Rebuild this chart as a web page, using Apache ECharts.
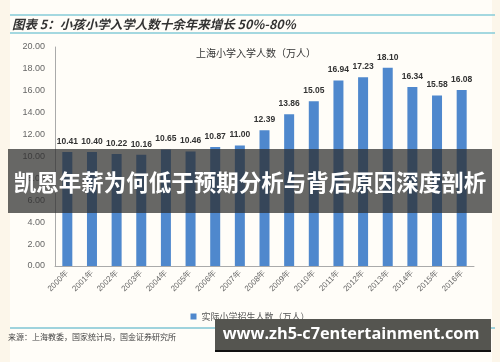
<!DOCTYPE html>
<html>
<head>
<meta charset="utf-8">
<script src="https://cdn.jsdelivr.net/npm/echarts@6/dist/echarts.min.js"></script>
<style>
html,body{margin:0;padding:0;background:#fcf6ea;}
#c{width:500px;height:362px;}
</style>
</head>
<body>
<div id="c"></div>
<script>
const categories = ['2000年','2001年','2002年','2003年','2004年','2005年','2006年','2007年','2008年','2009年','2010年','2011年','2012年','2013年','2014年','2015年','2016年'];
const enrollment = [10.41,10.40,10.22,10.16,10.65,10.46,10.87,11.00,12.39,13.86,15.05,16.94,17.23,18.10,16.34,15.58,16.08];
const seriesName = '实际小学招生人数（万人）';
const chartTitle = '上海小学入学人数（万人）';
const figTitle = '图表 5：小孩小学入学人数十余年来增长 50%-80%';
const sourceText = '来源：上海教委，国家统计局，国金证券研究所';
const overlayText = '凯恩年薪为何低于预期分析与背后原因深度剖析';
const watermark = 'www.zh5-c7entertainment.com';

const chart = echarts.init(document.getElementById('c'));
chart.setOption({
  backgroundColor: '#fcf6ea',
  animation: false,
  title: {
    text: chartTitle, left: 251, top: 43, textAlign: 'center',
    textStyle: {fontSize: 10, fontWeight: 'normal', color: '#333', fontFamily: 'Noto Sans CJK SC'}
  },
  legend: {
    data: [seriesName], left: 'center', top: 307, itemWidth: 6, itemHeight: 6, itemGap: 4,
    icon: 'rect',
    textStyle: {fontSize: 9, color: '#555', fontFamily: 'Noto Sans CJK SC'}
  },
  grid: {left: 55, right: 26, top: 47, bottom: 96},
  xAxis: {
    type: 'category', data: categories,
    axisLine: {lineStyle: {color: '#aaa'}},
    axisTick: {show: false},
    axisLabel: {rotate: 45, fontSize: 8, color: '#666', margin: 6, interval: 0}
  },
  yAxis: {
    type: 'value', min: 0, max: 20, interval: 2,
    axisLine: {show: true, lineStyle: {color: '#aaa'}},
    axisTick: {show: false},
    splitLine: {show: false},
    axisLabel: {fontSize: 9, color: '#666', margin: 10, formatter: v => v.toFixed(2)}
  },
  series: [{
    name: seriesName, type: 'bar', data: enrollment, barWidth: 10,
    itemStyle: {color: '#4f88cd'},
    label: {show: true, position: 'top', fontSize: 8.5, fontWeight: 'bold', color: '#333', formatter: p => p.value.toFixed(2), distance: 6}
  }],
  graphic: [
    {type: 'rect', z: 0, shape: {x: 10, y: 0, width: 482, height: 362}, style: {fill: '#fffdf8'}},
    {type: 'line', z: 100, shape: {x1: 10, y1: 15, x2: 495, y2: 15}, style: {stroke: '#86cbd8', lineWidth: 1.5}},
    {type: 'line', z: 100, shape: {x1: 10, y1: 33, x2: 495, y2: 33}, style: {stroke: '#86cbd8', lineWidth: 1.5}},
    {type: 'text', z: 100, style: {text: figTitle, x: 12, y: 24, verticalAlign: 'middle', font: 'italic bold 12.5px "Noto Sans CJK SC"', fill: '#333'}},
    {type: 'line', z: 100, shape: {x1: 10, y1: 328, x2: 495, y2: 328}, style: {stroke: '#9fd3dd', lineWidth: 2}},
    {type: 'text', z: 100, style: {text: sourceText, x: 8, y: 337, verticalAlign: 'middle', font: '8px "Noto Sans CJK SC"', fill: '#444'}},
    {type: 'rect', z: 100, shape: {x: 8, y: 149, width: 484, height: 64}, style: {fill: 'rgba(45,45,45,0.72)'}},
    {type: 'text', z: 101, style: {text: overlayText, x: 250, y: 182, align: 'center', verticalAlign: 'middle', font: 'bold 22.5px "Noto Sans CJK SC"', fill: '#fff'}},
    {type: 'rect', z: 100, shape: {x: 215, y: 319, width: 276, height: 33}, style: {fill: '#555550'}},
    {type: 'rect', z: 100, shape: {x: 215, y: 350, width: 276, height: 2}, style: {fill: '#111'}},
    {type: 'text', z: 101, style: {text: watermark, x: 351, y: 334, align: 'center', verticalAlign: 'middle', font: 'bold 16.3px "Open Sans"', fill: '#fff'}}
  ]
});
</script>
</body>
</html>
